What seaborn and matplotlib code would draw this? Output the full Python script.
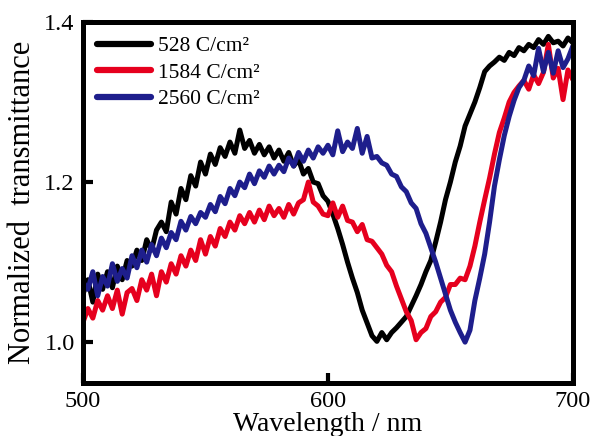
import numpy as np
import pandas as pd
import matplotlib
matplotlib.use("Agg")
import matplotlib.pyplot as plt
import seaborn as sns

# wavelength grid (nm), 2 nm steps
wavelength = np.arange(500, 701, 2)

# 528 C/cm2
t_528 = [1.060, 1.078, 1.050, 1.085, 1.066, 1.088, 1.068, 1.095, 1.078, 1.102,
         1.095, 1.115, 1.102, 1.128, 1.115, 1.140, 1.150, 1.138, 1.175, 1.160,
         1.192, 1.178, 1.208, 1.195, 1.225, 1.210, 1.235, 1.222, 1.243, 1.232,
         1.250, 1.236, 1.265, 1.242, 1.252, 1.236, 1.247, 1.234, 1.244, 1.230,
         1.240, 1.226, 1.237, 1.220, 1.228, 1.210, 1.217, 1.200, 1.198, 1.183,
         1.176, 1.160, 1.142, 1.122, 1.100, 1.080, 1.062, 1.040, 1.024, 1.008,
         1.001, 1.012, 1.003, 1.012, 1.018, 1.025, 1.032, 1.045, 1.058, 1.072,
         1.088, 1.102, 1.125, 1.150, 1.178, 1.200, 1.225, 1.245, 1.270, 1.285,
         1.300, 1.318, 1.338, 1.345, 1.350, 1.356, 1.352, 1.362, 1.358, 1.368,
         1.364, 1.372, 1.368, 1.378, 1.372, 1.382, 1.374, 1.376, 1.370, 1.380,
         1.374]

# 1584 C/cm2
t_1584 = [1.025, 1.042, 1.030, 1.052, 1.040, 1.058, 1.042, 1.065, 1.035, 1.062,
          1.067, 1.052, 1.078, 1.065, 1.085, 1.058, 1.088, 1.075, 1.098, 1.085,
          1.108, 1.095, 1.115, 1.102, 1.128, 1.110, 1.132, 1.120, 1.142, 1.132,
          1.150, 1.140, 1.158, 1.148, 1.162, 1.150, 1.165, 1.153, 1.170, 1.158,
          1.167, 1.156, 1.172, 1.160, 1.174, 1.178, 1.200, 1.175, 1.170, 1.160,
          1.158, 1.174, 1.156, 1.170, 1.152, 1.150, 1.138, 1.147, 1.128, 1.126,
          1.118, 1.110, 1.096, 1.088, 1.070, 1.054, 1.038, 1.027, 1.003, 1.012,
          1.017, 1.032, 1.038, 1.050, 1.056, 1.072, 1.072, 1.080, 1.078, 1.095,
          1.120, 1.150, 1.178, 1.205, 1.235, 1.262, 1.280, 1.300, 1.312, 1.320,
          1.327, 1.316, 1.334, 1.323, 1.337, 1.372, 1.330, 1.342, 1.303, 1.340,
          1.328]

# 2560 C/cm2
t_2560 = [1.075, 1.066, 1.088, 1.058, 1.082, 1.070, 1.098, 1.076, 1.092, 1.080,
          1.108, 1.093, 1.115, 1.100, 1.122, 1.108, 1.130, 1.118, 1.137, 1.128,
          1.151, 1.140, 1.157, 1.148, 1.162, 1.156, 1.172, 1.163, 1.182, 1.173,
          1.192, 1.183, 1.200, 1.193, 1.210, 1.198, 1.214, 1.206, 1.220, 1.210,
          1.221, 1.213, 1.230, 1.220, 1.237, 1.226, 1.240, 1.230, 1.244, 1.236,
          1.246, 1.234, 1.264, 1.238, 1.250, 1.242, 1.267, 1.236, 1.257, 1.230,
          1.232, 1.224, 1.221, 1.210, 1.207, 1.194, 1.188, 1.174, 1.167, 1.148,
          1.136, 1.118, 1.100, 1.080, 1.060, 1.040, 1.025, 1.012, 1.000, 1.015,
          1.052, 1.080, 1.110, 1.150, 1.195, 1.228, 1.258, 1.282, 1.302, 1.318,
          1.327, 1.345, 1.333, 1.367, 1.338, 1.362, 1.336, 1.364, 1.343, 1.354,
          1.370]

labels = ["528 C/cm²", "1584 C/cm²", "2560 C/cm²"]
colors = ["#000000", "#e6001e", "#1e1e8c"]

df = pd.concat([
    pd.DataFrame({"wl": wavelength, "T": vals, "dose": lab})
    for vals, lab in zip([t_528, t_1584, t_2560], labels)
])

sns.set_style("ticks", {"axes.edgecolor": "black", "xtick.color": "black",
                        "ytick.color": "black", "text.color": "black",
                        "axes.labelcolor": "black"})
plt.rcParams['font.family'] = ['Liberation Serif', 'DejaVu Serif']

fig = plt.figure(figsize=(5.93, 4.36), dpi=100)
ax = fig.add_axes([0.140, 0.1216, 0.826, 0.828])

sns.lineplot(data=df, x="wl", y="T", hue="dose", palette=colors,
             linewidth=3.6, ax=ax, estimator=None)

ax.set_xlim(500, 700)
ax.set_ylim(0.949, 1.4)
ax.set_xticks([500, 600, 700])
ax.set_yticks([1.0, 1.2, 1.4])
ax.set_yticklabels(["1.0", "1.2", "1.4"])
ax.tick_params(direction="in", length=7, width=3, labelsize=17.5, pad=6)
for s in ax.spines.values():
    s.set_linewidth(3.6)
    s.set_visible(True)

ax.set_xlabel("Wavelength / nm", fontsize=20, labelpad=0)
ax.set_ylabel("Normalized  transmittance", fontsize=22, labelpad=5)

leg = ax.legend(loc="upper left", bbox_to_anchor=(0.0, 1.0), frameon=False,
                fontsize=15.5, handlelength=2.5, handletextpad=0.35,
                labelspacing=0.3, borderaxespad=0.25)
for line in leg.get_lines():
    line.set_linewidth(4.5)

fig.savefig("out.png", dpi=100)
